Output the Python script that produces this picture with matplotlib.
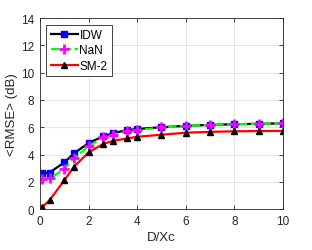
import matplotlib
matplotlib.use("Agg")
import matplotlib.pyplot as plt

plt.rcParams["font.family"] = ["Liberation Sans", "DejaVu Sans"]

# data
x = [0.1, 0.4, 1.0, 1.4, 2.0, 2.6, 3.0, 3.6, 4.0, 5.0, 6.0, 7.0, 8.0, 9.0, 10.0]
idw = [2.64, 2.68, 3.42, 4.08, 4.84, 5.33, 5.57, 5.79, 5.87, 6.0, 6.1, 6.17, 6.22, 6.25, 6.28]
nan = [2.2, 2.25, 2.93, 3.72, 4.6, 5.26, 5.45, 5.7, 5.79, 5.98, 6.1, 6.17, 6.22, 6.25, 6.28]
sm2 = [0.15, 0.66, 2.1, 3.1, 4.15, 4.77, 5.0, 5.18, 5.3, 5.45, 5.6, 5.66, 5.7, 5.72, 5.73]

fig = plt.figure(figsize=(3.12, 2.51), dpi=100)
ax = fig.add_axes([0.128, 0.163, 0.779, 0.761])

ax.plot(x, idw, "-", color="black", lw=1.6, marker="s", ms=4.5,
        mfc="blue", mec="blue", label="IDW")
ax.plot(x, nan, "--", color="#00ff00", lw=1.6, marker="+", ms=7, mew=2,
        mec="magenta", label="NaN")
ax.plot(x, sm2, "-", color="red", lw=1.6, marker="^", ms=5,
        mfc="black", mec="black", label="SM-2")

ax.set_xlim(0, 10); ax.set_ylim(0, 14)
ax.set_xticks([0, 2, 4, 6, 8, 10]); ax.set_yticks(range(0, 15, 2))
ax.grid(True, color="#e6e6e6", lw=0.8)
ax.set_axisbelow(True)
ax.tick_params(direction="in", top=True, right=True, labelsize=8.5,
               length=3, width=0.6, colors="#262626", pad=4)
for s in ax.spines.values():
    s.set_color("#262626"); s.set_linewidth(0.6)
ax.set_xlabel("D/Xc", fontsize=9.5, color="#262626", labelpad=3)
ax.set_ylabel("<RMSE> (dB)", fontsize=9.5, color="#262626", labelpad=2)
leg = ax.legend(loc="upper left", fontsize=8.5, handlelength=2.3, handletextpad=0.15,
                borderpad=0.35, labelspacing=0.3, fancybox=False, framealpha=1,
                borderaxespad=0.55)
leg.get_frame().set_edgecolor("#262626"); leg.get_frame().set_linewidth(0.6)

fig.savefig("out.png", dpi=100)
